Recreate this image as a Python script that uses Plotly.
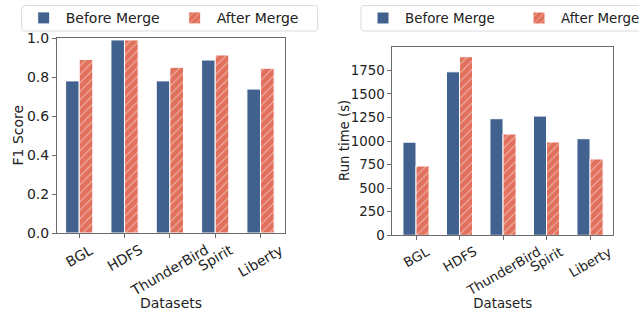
import plotly.graph_objects as go

datasets = ["BGL", "HDFS", "ThunderBird", "Spirit", "Liberty"]
f1_before = [0.78, 0.99, 0.78, 0.887, 0.738]
f1_after = [0.89, 0.99, 0.85, 0.913, 0.845]
rt_before = [988, 1735, 1237, 1265, 1025]
rt_after = [735, 1895, 1075, 990, 810]

BLUE = "#41628f"
RED = "#e1705c"
FONT = "DejaVu Sans"
FS_L, FS_R = 14, 13.3          # tick / label sizes (left, right panel)
LFS_L, LFS_R = 14, 13.4        # legend sizes
TXT = "#222222"

W, H = 639, 314
def px(v): return v / W
def py(v): return 1 - v / H

fig = go.Figure()

def add(xaxis, yaxis, before, after, legend):
    fig.add_trace(go.Bar(
        x=datasets, y=before, name="Before Merge", xaxis=xaxis, yaxis=yaxis,
        marker=dict(color=BLUE, line=dict(color="white", width=1)),
        offsetgroup="b", legend=legend))
    fig.add_trace(go.Bar(
        x=datasets, y=after, name="After Merge", xaxis=xaxis, yaxis=yaxis,
        marker=dict(color=RED, line=dict(color="white", width=1),
                    pattern=dict(shape="/", fgcolor="white", bgcolor=RED,
                                 size=6, solidity=0.18)),
        offsetgroup="a", legend=legend))

add("x", "y", f1_before, f1_after, "legend")
add("x2", "y2", rt_before, rt_after, "legend2")

def axis_common(fs):
    return dict(showline=True, mirror=True, linecolor="#6b6b6b", linewidth=1,
                ticks="outside", ticklen=4, tickcolor="#6b6b6b", automargin=False,
                tickfont=dict(family=FONT, size=fs, color=TXT),
                showgrid=False, zeroline=False)

# rotated category labels, centred under each tick (matplotlib style)
for xr, yr, fs in (("x", "y", FS_L), ("x2", "y2", FS_R)):
    for d in datasets:
        fig.add_annotation(x=d, y=0, xref=xr, yref=yr, text=d, showarrow=False,
                           textangle=-30, xanchor="center", yanchor="top",
                           yshift=-6, font=dict(family=FONT, size=fs, color=TXT))

# y-axis titles
fig.add_annotation(x=px(17), y=py(135.5), xref="paper", yref="paper", text="F1 Score",
                   textangle=-90, showarrow=False, xanchor="center", yanchor="middle",
                   font=dict(family=FONT, size=FS_L, color=TXT))
fig.add_annotation(x=px(344), y=py(141), xref="paper", yref="paper", text="Run time (s)",
                   textangle=-90, showarrow=False, xanchor="center", yanchor="middle",
                   font=dict(family=FONT, size=FS_R, color=TXT))

# legend frames (rounded)
def rbox(x0, y0, x1, y1, r=3):
    X = lambda v: f"{px(v):.5f}"
    Y = lambda v: f"{py(v):.5f}"
    return (f"M{X(x0+r)},{Y(y0)} L{X(x1-r)},{Y(y0)} Q{X(x1)},{Y(y0)} {X(x1)},{Y(y0+r)} "
            f"L{X(x1)},{Y(y1-r)} Q{X(x1)},{Y(y1)} {X(x1-r)},{Y(y1)} L{X(x0+r)},{Y(y1)} "
            f"Q{X(x0)},{Y(y1)} {X(x0)},{Y(y1-r)} L{X(x0)},{Y(y0+r)} Q{X(x0)},{Y(y0)} {X(x0+r)},{Y(y0)} Z")

for x0, x1 in ((21.7, 317.7), (361, 660)):
    fig.add_shape(type="path", path=rbox(x0, 5.5, x1, 31), xref="paper", yref="paper",
                  line=dict(color="#dcdcdc", width=1), fillcolor="white", layer="above")

fig.update_layout(
    width=W, height=H, margin=dict(l=0, r=0, t=0, b=0, autoexpand=False),
    paper_bgcolor="white", plot_bgcolor="white",
    barmode="group", bargap=0.4, bargroupgap=0.0,
    font=dict(family=FONT, size=FS_L, color=TXT),
    xaxis=dict(domain=[px(57), px(285)], anchor="y", range=[-0.49, 4.54],
               showticklabels=False,
               title=dict(text="Datasets", standoff=61, font=dict(size=FS_L)),
               **axis_common(FS_L)),
    yaxis=dict(domain=[py(233), py(38)], anchor="x", range=[0, 1.0],
               dtick=0.2, tickformat=".1f", **axis_common(FS_L)),
    xaxis2=dict(domain=[px(392.3), px(613.3)], anchor="y2", range=[-0.545, 4.535],
                showticklabels=False,
                title=dict(text="Datasets", standoff=59, font=dict(size=FS_R)),
                **axis_common(FS_R)),
    yaxis2=dict(domain=[py(235.3), py(47.3)], anchor="x2", range=[0, 1995],
                dtick=250, **axis_common(FS_R)),
    legend=dict(orientation="h", x=px(21.7), xanchor="left", y=py(18.3), yanchor="middle",
                borderwidth=0, bgcolor="rgba(0,0,0,0)",
                itemwidth=34, entrywidth=102,
                font=dict(family=FONT, size=LFS_L, color=TXT)),
    legend2=dict(orientation="h", x=px(361), xanchor="left", y=py(18.3), yanchor="middle",
                 borderwidth=0, bgcolor="rgba(0,0,0,0)",
                 itemwidth=34, entrywidth=107,
                 font=dict(family=FONT, size=LFS_R, color=TXT)),
)

fig.write_html("out.html", post_script="document.body.style.margin='0';",
               config={"displayModeBar": False})
